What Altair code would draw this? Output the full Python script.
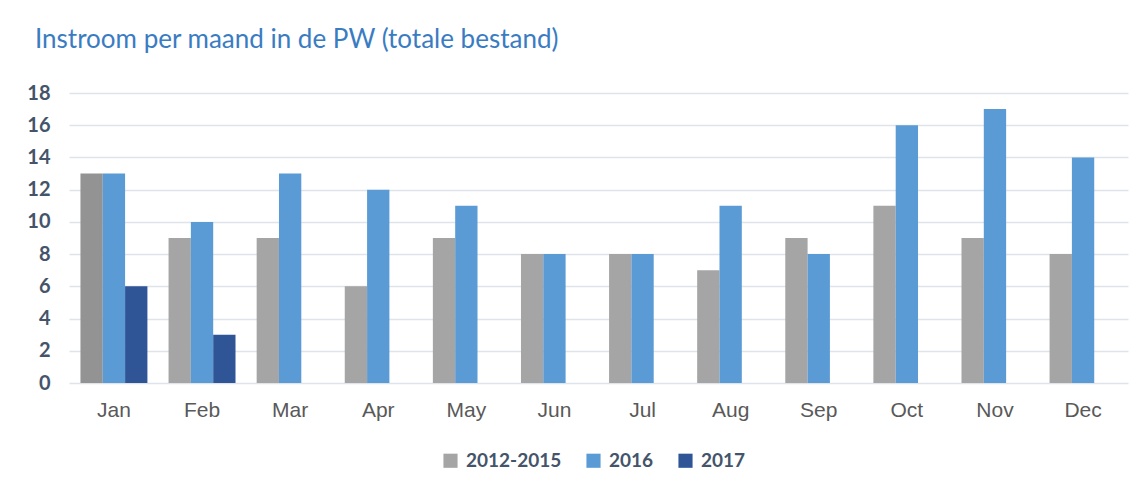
import altair as alt
import pandas as pd

months = ["Jan", "Feb", "Mar", "Apr", "May", "Jun", "Jul", "Aug", "Sep", "Oct", "Nov", "Dec"]
series_names = ["2012-2015", "2016", "2017"]
v_2012_2015 = [13, 9, 9, 6, 9, 8, 8, 7, 9, 11, 9, 8]
v_2016 = [13, 10, 13, 12, 11, 8, 8, 11, 8, 16, 17, 14]
v_2017 = [6, 3, None, None, None, None, None, None, None, None, None, None]

rows = []
for i, m in enumerate(months):
    for s, vals in zip(series_names, [v_2012_2015, v_2016, v_2017]):
        if vals[i] is not None:
            rows.append({"month": m, "series": s, "value": vals[i]})
df = pd.DataFrame(rows)

color_scale = alt.Scale(domain=series_names, range=["#a5a5a5", "#5b9bd5", "#2f5597"])

chart = alt.Chart(df).mark_bar().encode(
    x=alt.X("month:N", sort=months, title=None,
            scale=alt.Scale(paddingInner=0.24, paddingOuter=0.13),
            axis=alt.Axis(labelAngle=0, labelFontSize=21, labelColor="#595959",
                          labelFont="Liberation Sans", labelPadding=16,
                          ticks=False, domain=False, grid=False)),
    xOffset=alt.XOffset("series:N", sort=series_names, scale=alt.Scale(paddingInner=0, paddingOuter=0)),
    y=alt.Y("value:Q", title=None,
            scale=alt.Scale(domain=[0, 18], nice=False),
            axis=alt.Axis(values=list(range(0, 19, 2)), labelFontSize=20, labelFontWeight="bold",
                          labelColor="#44546a", labelFont="Lato", labelPadding=19,
                          ticks=False, domain=False, gridColor="#dfe3ea", gridWidth=1.3)),
    color=alt.condition(
        "datum.month == 'Jan' && datum.series == '2012-2015'",
        alt.value("#939393"),
        alt.Color("series:N", scale=color_scale, sort=series_names,
                  legend=alt.Legend(title=None, orient="none", direction="horizontal",
                                    legendX=372, legendY=358, symbolType="square",
                                    symbolSize=200, symbolStrokeWidth=0,
                                    labelFont="Lato", labelFontSize=19, labelFontWeight="bold",
                                    labelColor="#44546a", columnPadding=22, labelOffset=6)),
    ),
).properties(
    width=1059, height=290,
    autosize=alt.AutoSizeParams(type="none"),
    padding={"left": 61, "top": 85, "right": 5, "bottom": 98},
    background="white",
    title=alt.TitleParams("Instroom per maand in de PW (totale bestand)", anchor="start",
                          frame="group", dx=-34, offset=30, fontSize=26, font="Lato",
                          fontWeight="normal", color="#3a7cc2"),
).configure_view(strokeWidth=0, stroke="transparent")

chart.save("out.html", embed_options={"renderer": "svg", "actions": False})
